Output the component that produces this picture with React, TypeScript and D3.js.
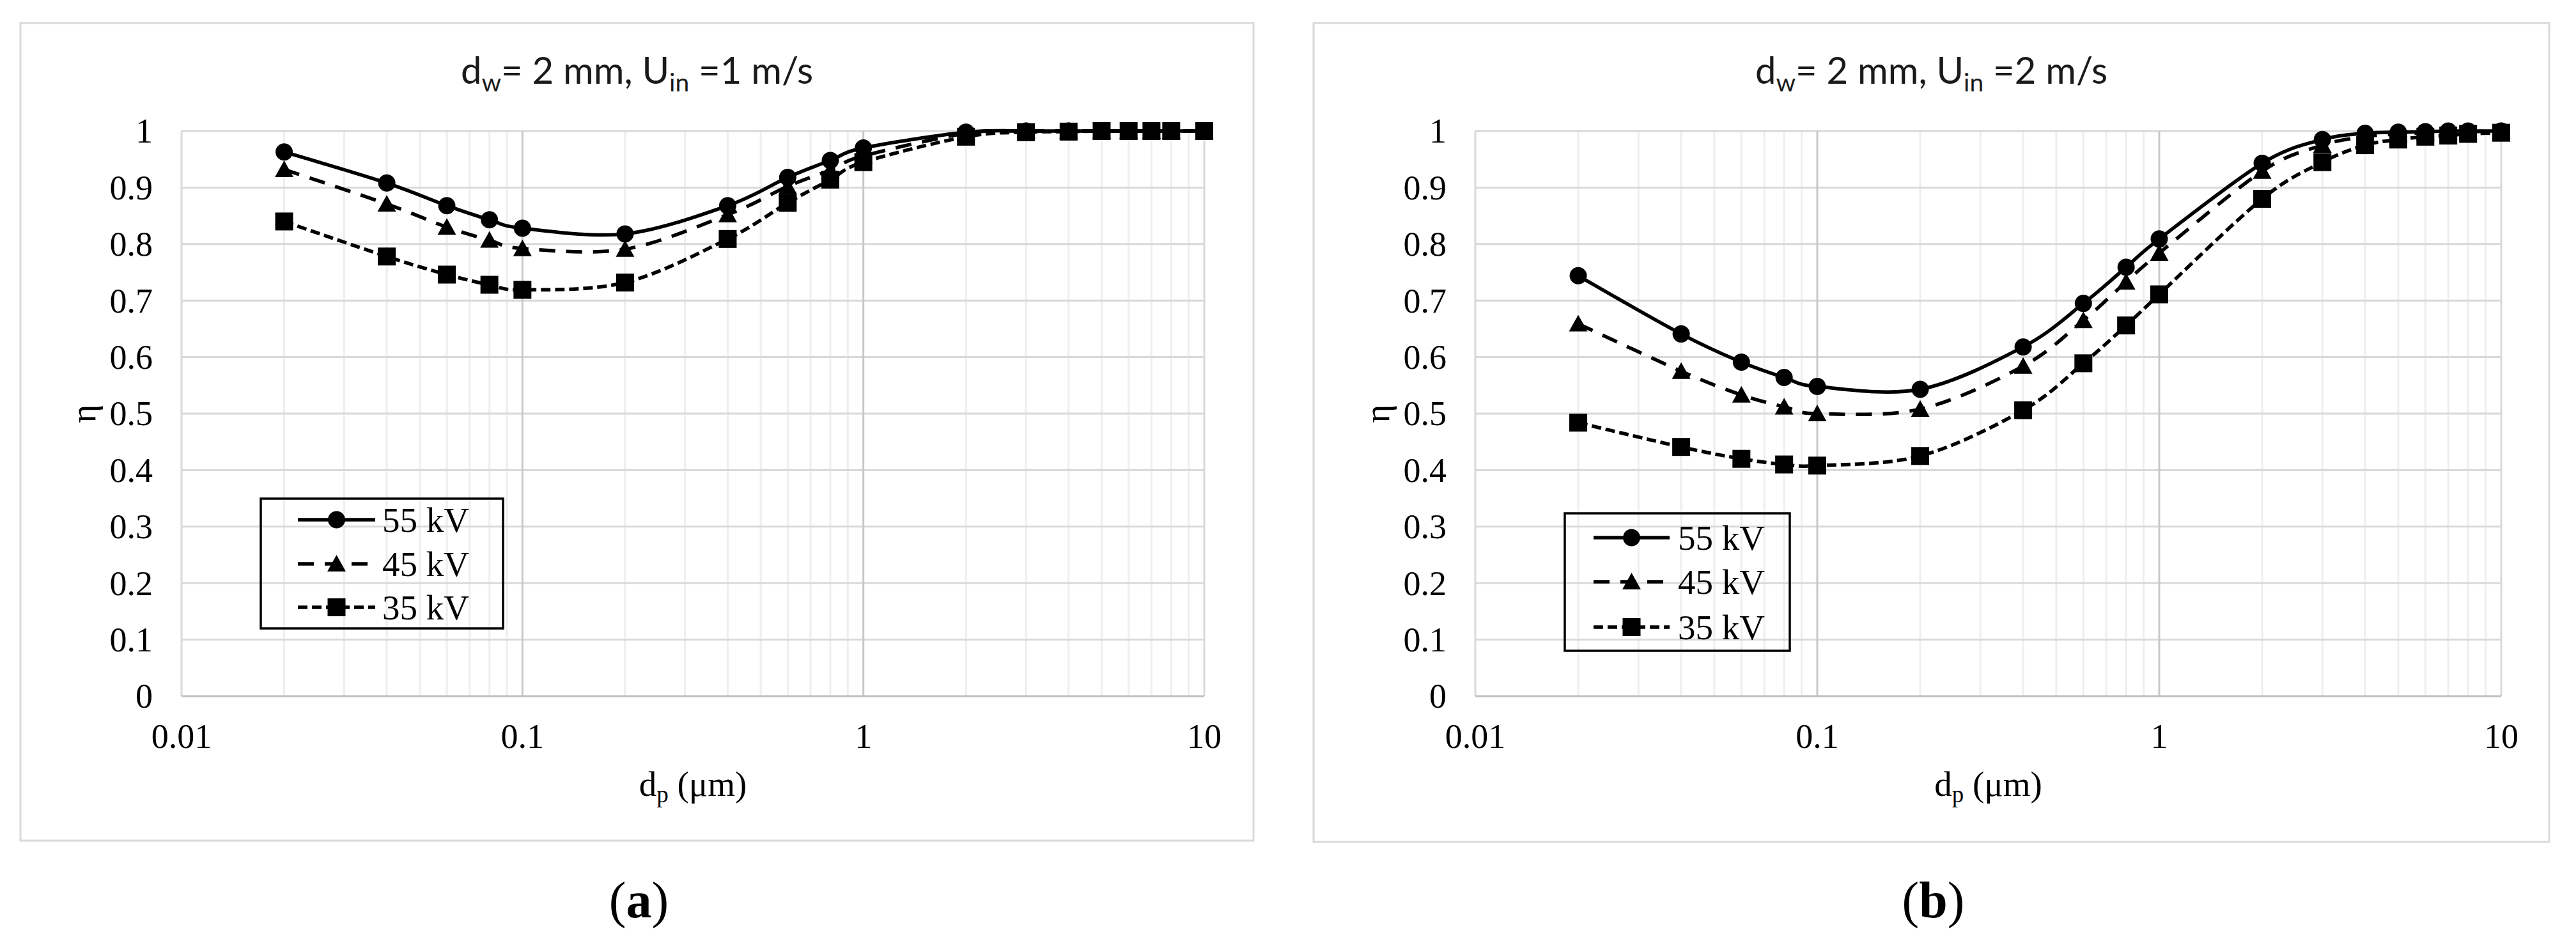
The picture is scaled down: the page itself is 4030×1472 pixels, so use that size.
import React from 'react';
import * as d3 from 'd3';

const width = 4030;
const height = 1472;

// particle diameter (um), same for every series
const dp = [0.02, 0.04, 0.06, 0.08, 0.1, 0.2, 0.4, 0.6, 0.8, 1, 2, 3, 4, 5, 6, 7, 8, 10];

// (a) Uin = 1 m/s
const eta55a = [0.963, 0.908, 0.868, 0.843, 0.828, 0.818, 0.868, 0.918, 0.948, 0.970, 0.998, 1, 1, 1, 1, 1, 1, 1];
const eta45a = [0.932, 0.871, 0.830, 0.807, 0.792, 0.791, 0.852, 0.902, 0.931, 0.956, 0.996, 1, 1, 1, 1, 1, 1, 1];
const eta35a = [0.840, 0.778, 0.746, 0.728, 0.719, 0.732, 0.809, 0.873, 0.914, 0.945, 0.990, 0.998, 0.999, 1, 1, 1, 1, 1];

// (b) Uin = 2 m/s
const eta55b = [0.744, 0.641, 0.591, 0.564, 0.548, 0.543, 0.618, 0.695, 0.759, 0.809, 0.943, 0.985, 0.996, 0.998, 0.999, 1, 1, 1];
const eta45b = [0.659, 0.575, 0.533, 0.512, 0.500, 0.508, 0.584, 0.665, 0.733, 0.784, 0.929, 0.975, 0.990, 0.995, 0.997, 0.998, 0.999, 1];
const eta35b = [0.484, 0.441, 0.420, 0.410, 0.408, 0.425, 0.506, 0.589, 0.656, 0.711, 0.880, 0.945, 0.975, 0.985, 0.990, 0.992, 0.995, 0.997];

const seriesNames = ['55 kV', '45 kV', '35 kV'];
const seriesMarkers = ['circle', 'triangle', 'square'];
const seriesDash = [null, '25 17', '15 7'];

const xTicks = [0.01, 0.1, 1, 10];
const xTickLabels = ['0.01', '0.1', '1', '10'];
const yTicks = [0, 0.1, 0.2, 0.3, 0.4, 0.5, 0.6, 0.7, 0.8, 0.9, 1];
const yTickLabels = ['0', '0.1', '0.2', '0.3', '0.4', '0.5', '0.6', '0.7', '0.8', '0.9', '1'];

const serif = { fontFamily: "'Liberation Serif', 'Times New Roman', serif" };
const sans = { fontFamily: "Lato, 'Open Sans', sans-serif" };

const panels = [
  {
    key: 'a',
    uin: '1',
    series: [eta55a, eta45a, eta35a],
    border: { x0: 32, y0: 36, x1: 1961, y1: 1315 },
    plot: { x0: 284, y0: 205, x1: 1884, y1: 1089 },
    legend: { x0: 408, y0: 780, x1: 787, y1: 983, rows: [813, 882, 950], lx0: 466, lx1: 587, tx: 598 },
  },
  {
    key: 'b',
    uin: '2',
    series: [eta55b, eta45b, eta35b],
    border: { x0: 2055, y0: 36, x1: 3988, y1: 1317 },
    plot: { x0: 2308, y0: 205, x1: 3913, y1: 1089 },
    legend: { x0: 2448, y0: 803, x1: 2800, y1: 1018, rows: [841, 910, 981], lx0: 2493, lx1: 2612, tx: 2625 },
  },
];

function Marker({ type, x, y }) {
  if (type === 'circle') return <circle cx={x} cy={y} r={13.5} fill="#000" />;
  if (type === 'square') return <rect x={x - 14} y={y - 14} width={28} height={28} fill="#000" />;
  return <path d={`M${x},${y - 14}L${x + 14.5},${y + 12}L${x - 14.5},${y + 12}Z`} fill="#000" />;
}

function Panel({ p }) {
  const xScale = d3.scaleLog().domain([0.01, 10]).range([p.plot.x0, p.plot.x1]);
  const yScale = d3.scaleLinear().domain([0, 1]).range([p.plot.y1, p.plot.y0]);

  const minor = [];
  [0.01, 0.1, 1].forEach(dec => {
    for (let k = 2; k <= 9; k++) minor.push(dec * k);
  });

  const line = d3.line()
    .x((d, i) => xScale(dp[i]))
    .y(d => yScale(d))
    .curve(d3.curveCardinal.tension(0));

  const cx = (p.border.x0 + p.border.x1) / 2;
  const pcx = (p.plot.x0 + p.plot.x1) / 2;
  const pcy = (p.plot.y0 + p.plot.y1) / 2;
  const lg = p.legend;

  return (
    <g>
      <rect x={p.border.x0} y={p.border.y0} width={p.border.x1 - p.border.x0} height={p.border.y1 - p.border.y0}
        fill="#fff" stroke="#d9d9d9" strokeWidth={3} />

      <text x={cx} y={131} textAnchor="middle" style={sans} fontSize={58} fill="#1a1a1a">
        <tspan>d</tspan>
        <tspan fontSize={39} dy={12}>w</tspan>
        <tspan dy={-12}>= 2 mm, U</tspan>
        <tspan fontSize={39} dy={12}>in</tspan>
        <tspan dy={-12}>{` =${p.uin} m/s`}</tspan>
      </text>

      {minor.map(v => (
        <line key={'m' + v} x1={xScale(v)} x2={xScale(v)} y1={p.plot.y0} y2={p.plot.y1} stroke="#eeeeee" strokeWidth={3} />
      ))}
      {yTicks.slice(1).map(v => (
        <line key={'h' + v} x1={p.plot.x0} x2={p.plot.x1} y1={yScale(v)} y2={yScale(v)} stroke="#d9d9d9" strokeWidth={3} />
      ))}
      {xTicks.map(v => (
        <line key={'v' + v} x1={xScale(v)} x2={xScale(v)} y1={p.plot.y0} y2={p.plot.y1}
          stroke={v === 0.01 || v === 10 ? '#d9d9d9' : '#c8c8c8'} strokeWidth={3} />
      ))}
      <line x1={p.plot.x0} x2={p.plot.x1} y1={yScale(0)} y2={yScale(0)} stroke="#bfbfbf" strokeWidth={3} />

      {yTicks.map((v, i) => (
        <text key={'yt' + v} x={p.plot.x0 - 45} y={yScale(v)} dy="0.34em" textAnchor="end"
          style={serif} fontSize={54} fill="#000">{yTickLabels[i]}</text>
      ))}
      {xTicks.map((v, i) => (
        <text key={'xt' + v} x={xScale(v)} y={p.plot.y1 + 81} textAnchor="middle"
          style={serif} fontSize={54} fill="#000">{xTickLabels[i]}</text>
      ))}

      <text x={pcx} y={1245} textAnchor="middle" style={serif} fontSize={55} fill="#000">
        <tspan>d</tspan>
        <tspan fontSize={37} dy={10}>p</tspan>
        <tspan dy={-10}> (μm)</tspan>
      </text>
      <text transform={`translate(${p.plot.x0 - 152},${pcy}) rotate(-90)`} textAnchor="middle" dy="0.3em"
        style={serif} fontSize={55} fill="#000">η</text>

      {p.series.map((s, si) => (
        <path key={'l' + si} d={line(s)} fill="none" stroke="#000" strokeWidth={5.5}
          strokeDasharray={seriesDash[si] || undefined} />
      ))}
      {p.series.map((s, si) => s.map((v, i) => (
        <Marker key={'pt' + si + '-' + i} type={seriesMarkers[si]} x={xScale(dp[i])} y={yScale(v)} />
      )))}

      <rect x={lg.x0} y={lg.y0} width={lg.x1 - lg.x0} height={lg.y1 - lg.y0} fill="none" stroke="#000" strokeWidth={3.5} />
      {seriesNames.map((name, si) => (
        <g key={'lg' + si}>
          <line x1={lg.lx0} x2={lg.lx1} y1={lg.rows[si]} y2={lg.rows[si]} stroke="#000" strokeWidth={5.5}
            strokeDasharray={seriesDash[si] || undefined} />
          <Marker type={seriesMarkers[si]} x={(lg.lx0 + lg.lx1) / 2} y={lg.rows[si]} />
          <text x={lg.tx} y={lg.rows[si]} dy="0.34em" style={serif} fontSize={55} fill="#000">{name}</text>
        </g>
      ))}

      <text x={cx + 3} y={1435} textAnchor="middle" style={serif} fontSize={80} fill="#000">
        <tspan>(</tspan>
        <tspan fontWeight="bold">{p.key}</tspan>
        <tspan>)</tspan>
      </text>
    </g>
  );
}

export default function App() {
  return (
    <svg width={width} height={height} style={{ position: 'absolute', left: 0, top: 0, background: '#fff' }}>
      <rect x={0} y={0} width={width} height={height} fill="#fff" />
      {panels.map(p => <Panel key={p.key} p={p} />)}
    </svg>
  );
}
